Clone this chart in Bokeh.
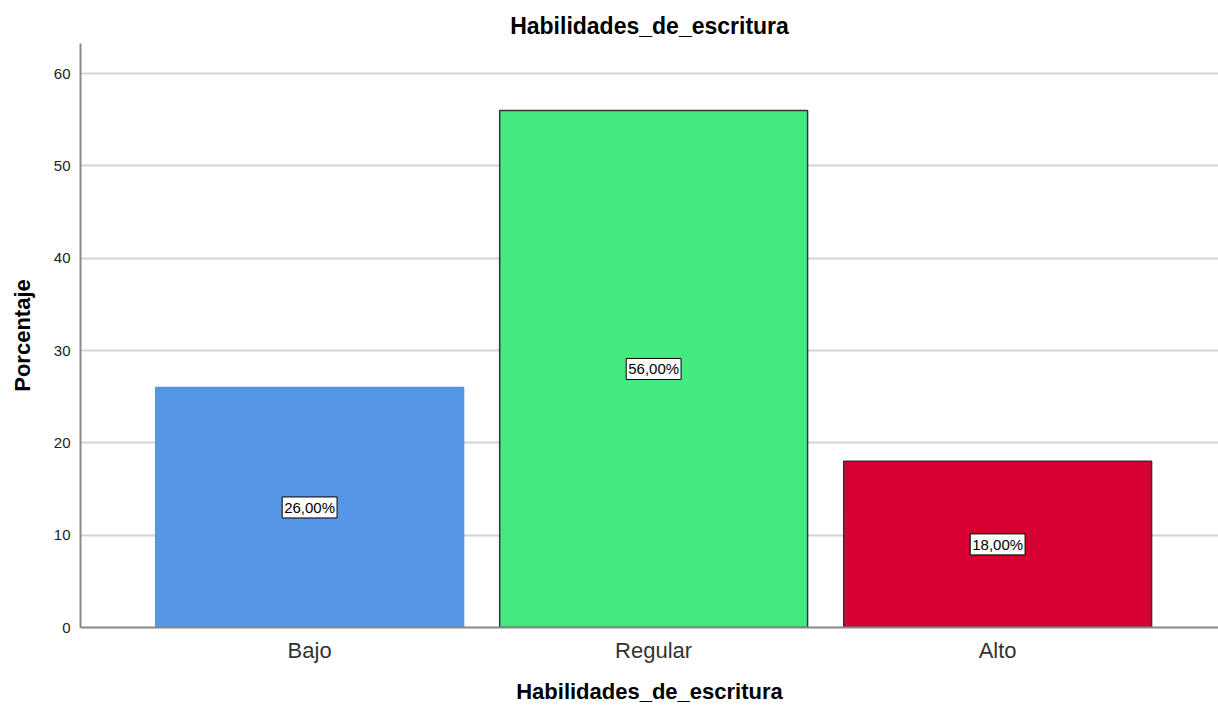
from bokeh.plotting import figure
from bokeh.models import ColumnDataSource, FixedTicker, Range1d
from bokeh.core.properties import value
from bokeh.embed import file_html
from bokeh.resources import INLINE

categories = ["Bajo", "Regular", "Alto"]
values = [26.0, 56.0, 18.0]
fill_colors = ["#5596E6", "#42EA80", "#D60032"]
line_colors = ["#5596E6", "#333333", "#333333"]
labels = ["26,00%", "56,00%", "18,00%"]
y_ticks = [0, 10, 20, 30, 40, 50, 60]

xs = list(range(1, len(categories) + 1))
src = ColumnDataSource(dict(x=xs, top=values, mid=[v / 2 for v in values],
                            fill=fill_colors, line=line_colors, lab=labels))

FONT = "Liberation Sans"
p = figure(width=1218, height=710, output_backend="svg", toolbar_location=None,
           x_range=Range1d(0.334, 3.642), y_range=Range1d(0, 63.25),
           title="Habilidades_de_escritura")
p.frame_width = 1138
p.frame_height = 584
p.min_border_left = 80
p.min_border_right = 0
p.min_border_top = 43
p.min_border_bottom = 83
p.outline_line_color = None
p.background_fill_color = "white"

p.title.align = "center"
p.title.text_font = FONT
p.title.text_font_size = "23px"
p.title.text_font_style = "bold"
p.title.text_color = "#000000"
p.title.offset = 0

p.vbar(x="x", top="top", bottom=0, width=0.895, source=src,
       fill_color="fill", line_color="line", line_width=1.5)

p.text(x="x", y="mid", text="lab", source=src,
       text_align="center", text_baseline="middle",
       text_font=value(FONT), text_font_size="15px", text_color="#000000",
       background_fill_color="white", border_line_color="black",
       border_line_width=1, padding=2)

p.xaxis.ticker = FixedTicker(ticks=xs)
p.xaxis.major_label_overrides = {x: c for x, c in zip(xs, categories)}
p.yaxis.ticker = FixedTicker(ticks=y_ticks)
for ax in (p.xaxis[0], p.yaxis[0]):
    ax.major_tick_line_color = None
    ax.minor_tick_line_color = None
    ax.axis_line_color = "#888888"
    ax.axis_line_width = 2
    ax.axis_label_text_font = FONT
    ax.axis_label_text_font_style = "bold"
    ax.axis_label_text_font_size = "22px"
    ax.axis_label_text_color = "#000000"
    ax.major_label_text_font = FONT
p.xaxis.major_label_text_font_size = "22px"
p.xaxis.major_label_text_color = "#333333"
p.xaxis.major_label_standoff = 4
p.yaxis.major_label_text_font_size = "15px"
p.yaxis.major_label_text_color = "#222222"
p.yaxis.major_label_standoff = 4
p.xaxis.axis_label = "Habilidades_de_escritura"
p.yaxis.axis_label = "Porcentaje"
p.xaxis.axis_label_standoff = 13
p.yaxis.axis_label_standoff = 16

p.xgrid.grid_line_color = None
p.ygrid.grid_line_color = "#D3D3D3"
p.ygrid.grid_line_width = 2
p.ygrid.level = "underlay"

open("out.html", "w").write(file_html(p, INLINE))
